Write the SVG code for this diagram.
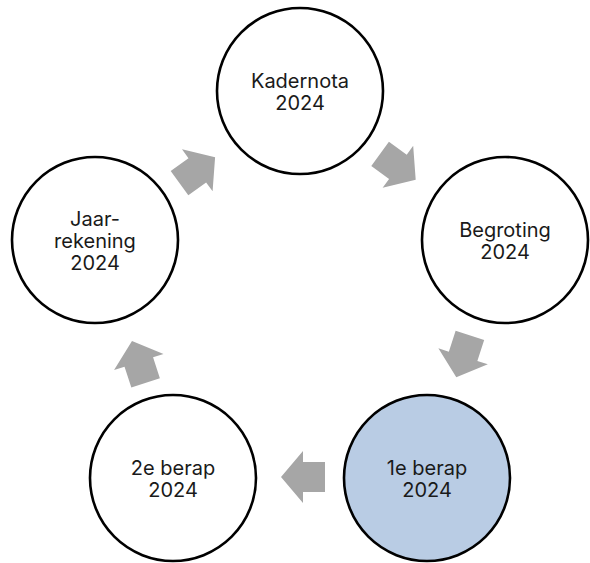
<svg xmlns="http://www.w3.org/2000/svg" width="590" height="563" viewBox="0 0 590 563">
<style>
.node{fill:#ffffff;stroke:#000000;stroke-width:2.6}
.hl{fill:#b9cce4}
.lbl{font-family:Inter,"Liberation Sans",sans-serif;font-size:20px;fill:#1a1a1a;text-anchor:middle}
.arr{fill:#a6a6a6}
</style>
<defs>
<polygon id="arrow" points="-22,-15 0,-15 0,-26 22,0 0,26 0,15 -22,15"/>
</defs>
<rect width="590" height="563" fill="#ffffff"/>
<g id="connectors">
<use href="#arrow" class="arr" transform="translate(397.9,166.8) rotate(36)"/>
<use href="#arrow" class="arr" transform="translate(463.1,356.3) rotate(108)"/>
<use href="#arrow" class="arr" transform="translate(303,477) rotate(180)"/>
<use href="#arrow" class="arr" transform="translate(138.8,362) rotate(252)"/>
<use href="#arrow" class="arr" transform="translate(197.3,170.3) rotate(324)"/>
</g>
<g id="kadernota">
<circle class="node" cx="300" cy="91" r="83"/>
<text class="lbl" x="300" y="88">Kadernota</text>
<text class="lbl" x="300" y="110">2024</text>
</g>
<g id="begroting">
<circle class="node" cx="505" cy="240" r="83"/>
<text class="lbl" x="505" y="237">Begroting</text>
<text class="lbl" x="505" y="259">2024</text>
</g>
<g id="berap1">
<circle class="node hl" cx="427" cy="478" r="83"/>
<text class="lbl" x="427" y="475">1e berap</text>
<text class="lbl" x="427" y="497">2024</text>
</g>
<g id="berap2">
<circle class="node" cx="173" cy="478" r="83"/>
<text class="lbl" x="173" y="475">2e berap</text>
<text class="lbl" x="173" y="497">2024</text>
</g>
<g id="jaarrekening">
<circle class="node" cx="95" cy="240" r="83"/>
<text class="lbl" x="95" y="226">Jaar-</text>
<text class="lbl" x="95" y="248">rekening</text>
<text class="lbl" x="95" y="270">2024</text>
</g>
</svg>
